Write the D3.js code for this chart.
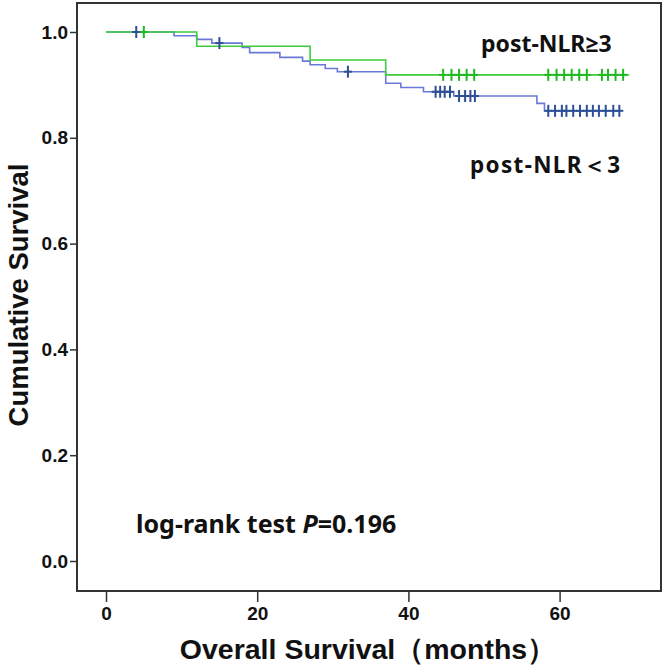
<!DOCTYPE html>
<html><head><meta charset="utf-8">
<script src="https://cdn.jsdelivr.net/npm/d3@7"></script>
<style>html,body{margin:0;padding:0;background:#fff;}svg{display:block;}</style>
</head><body>
<svg id="chart" width="666" height="669"></svg>
<script>
// ---- data ----
const xTicks = [0, 20, 40, 60];
const yTicks = [0.0, 0.2, 0.4, 0.6, 0.8, 1.0];

const lowTimes = [0, 9, 12, 14, 18, 19, 23, 26, 27, 29, 30.6, 37, 39, 42, 46, 57, 58];
const lowSurv  = [1.0, 0.993, 0.986, 0.979, 0.971, 0.961, 0.952, 0.945, 0.938, 0.931, 0.925, 0.903, 0.895, 0.887, 0.879, 0.865, 0.851];
const lowEnd = 68.0;
const lowCensor = [4, 15, 32, 43.6, 44.2, 44.8, 45.5, 46.7, 47.5, 48.2, 48.8, 58.5, 59.4, 60.3, 60.9, 61.8, 62.7, 63.6, 64.4, 65.2, 66.1, 67.1, 67.9];

const highTimes = [0, 12, 27, 37];
const highSurv  = [1.0, 0.973, 0.947, 0.919];
const highEnd = 69.2;
const highCensor = [5, 44.6, 45.7, 46.7, 47.7, 48.7, 58.5, 59.6, 60.6, 61.6, 62.6, 63.6, 65.6, 66.4, 67.4, 68.4];

const labelHigh = "post-NLR≥3";
const labelLow = "post-NLR＜3";
const pText = "=0.196";

// ---- layout ----
const svg = d3.select("#chart");
const frame = {left: 77, top: 3, right: 661, bottom: 591};
const x = d3.scaleLinear().domain([0, 60]).range([106, 559.6]);
const y = d3.scaleLinear().domain([0, 1]).range([561, 32]);

const tickFont = "'Liberation Sans Narrow', 'Arial Narrow', 'Liberation Sans', Arial, sans-serif";

// frame
svg.append("rect")
  .attr("x", frame.left).attr("y", frame.top)
  .attr("width", frame.right - frame.left).attr("height", frame.bottom - frame.top)
  .attr("fill", "none").attr("stroke", "#333").attr("stroke-width", 2);

// y axis
const yAxis = d3.axisLeft(y).tickValues(yTicks).tickFormat(d3.format(".1f")).tickSize(7).tickPadding(2);
const gy = svg.append("g").attr("transform", `translate(${frame.left},0)`).call(yAxis);
gy.select(".domain").remove();
gy.selectAll("line").attr("stroke", "#333").attr("stroke-width", 1.5);
gy.selectAll("text").attr("font-family", tickFont).attr("font-weight", "bold").attr("font-size", 19).attr("fill", "#111");

// x axis
const xAxis = d3.axisBottom(x).tickValues(xTicks).tickFormat(d3.format("d")).tickSize(11).tickPadding(5);
const gx = svg.append("g").attr("transform", `translate(0,${frame.bottom})`).call(xAxis);
gx.select(".domain").remove();
gx.selectAll("line").attr("stroke", "#333").attr("stroke-width", 1.5);
gx.selectAll("text").attr("font-family", tickFont).attr("font-weight", "bold").attr("font-size", 19).attr("fill", "#111");

// axis titles
svg.append("text")
  .attr("transform", `translate(28,295) rotate(-90)`)
  .attr("text-anchor", "middle")
  .attr("font-family", tickFont).attr("font-weight", "bold").attr("font-size", 27.5)
  .attr("fill", "#111").text("Cumulative Survival");

svg.append("text")
  .attr("x", 368).attr("y", 659)
  .attr("text-anchor", "middle")
  .attr("font-family", tickFont).attr("font-weight", "bold").attr("font-size", 28.5)
  .attr("fill", "#111").text("Overall Survival（months）");

// survival curves
function stepPoints(times, surv, end) {
  const pts = times.map((t, i) => [t, surv[i]]);
  pts.push([end, surv[surv.length - 1]]);
  return pts;
}
function survAt(times, surv, t) {
  let s = surv[0];
  for (let i = 0; i < times.length; i++) if (times[i] <= t) s = surv[i];
  return s;
}
const line = d3.line().x(d => x(d[0])).y(d => y(d[1])).curve(d3.curveStepAfter);

const lowColor = "#6a78d8", lowCensorColor = "#2d4f96";
const highColor = "#3dcc3d", highCensorColor = "#22b822";

svg.append("path").datum(stepPoints(lowTimes, lowSurv, lowEnd))
  .attr("d", line).attr("fill", "none").attr("stroke", lowColor).attr("stroke-width", 1.6);
svg.append("path").datum(stepPoints(highTimes, highSurv, highEnd))
  .attr("d", line).attr("fill", "none").attr("stroke", highColor).attr("stroke-width", 1.6);

function drawCensor(times, st, sv, color) {
  const g = svg.append("g");
  times.forEach(t => {
    const cx = x(t), cy = y(survAt(st, sv, t));
    g.append("line").attr("x1", cx).attr("x2", cx).attr("y1", cy - 6).attr("y2", cy + 6)
      .attr("stroke", color).attr("stroke-width", 2);
    g.append("line").attr("x1", cx - 4).attr("x2", cx + 4).attr("y1", cy).attr("y2", cy)
      .attr("stroke", color).attr("stroke-width", 2);
  });
}
drawCensor(lowCensor, lowTimes, lowSurv, lowCensorColor);
drawCensor(highCensor, highTimes, highSurv, highCensorColor);

// labels
const labFont = "'Noto Sans', 'Open Sans', sans-serif";
svg.append("text").attr("x", 481).attr("y", 52)
  .attr("font-family", labFont).attr("font-weight", "bold").attr("font-size", 23).attr("fill", "#111")
  .text(labelHigh);
svg.append("text").attr("x", 470).attr("y", 173)
  .attr("font-family", labFont).attr("font-weight", "bold").attr("font-size", 22.5).attr("fill", "#111")
  .attr("textLength", 150).attr("lengthAdjust", "spacing")
  .text(labelLow);

const pt = svg.append("text").attr("x", 136).attr("y", 533)
  .attr("font-family", labFont).attr("font-weight", "bold").attr("font-size", 25).attr("fill", "#111");
pt.append("tspan").text("log-rank test ");
pt.append("tspan").attr("font-style", "italic").text("P");
pt.append("tspan").text(pText);
</script>
</body></html>
